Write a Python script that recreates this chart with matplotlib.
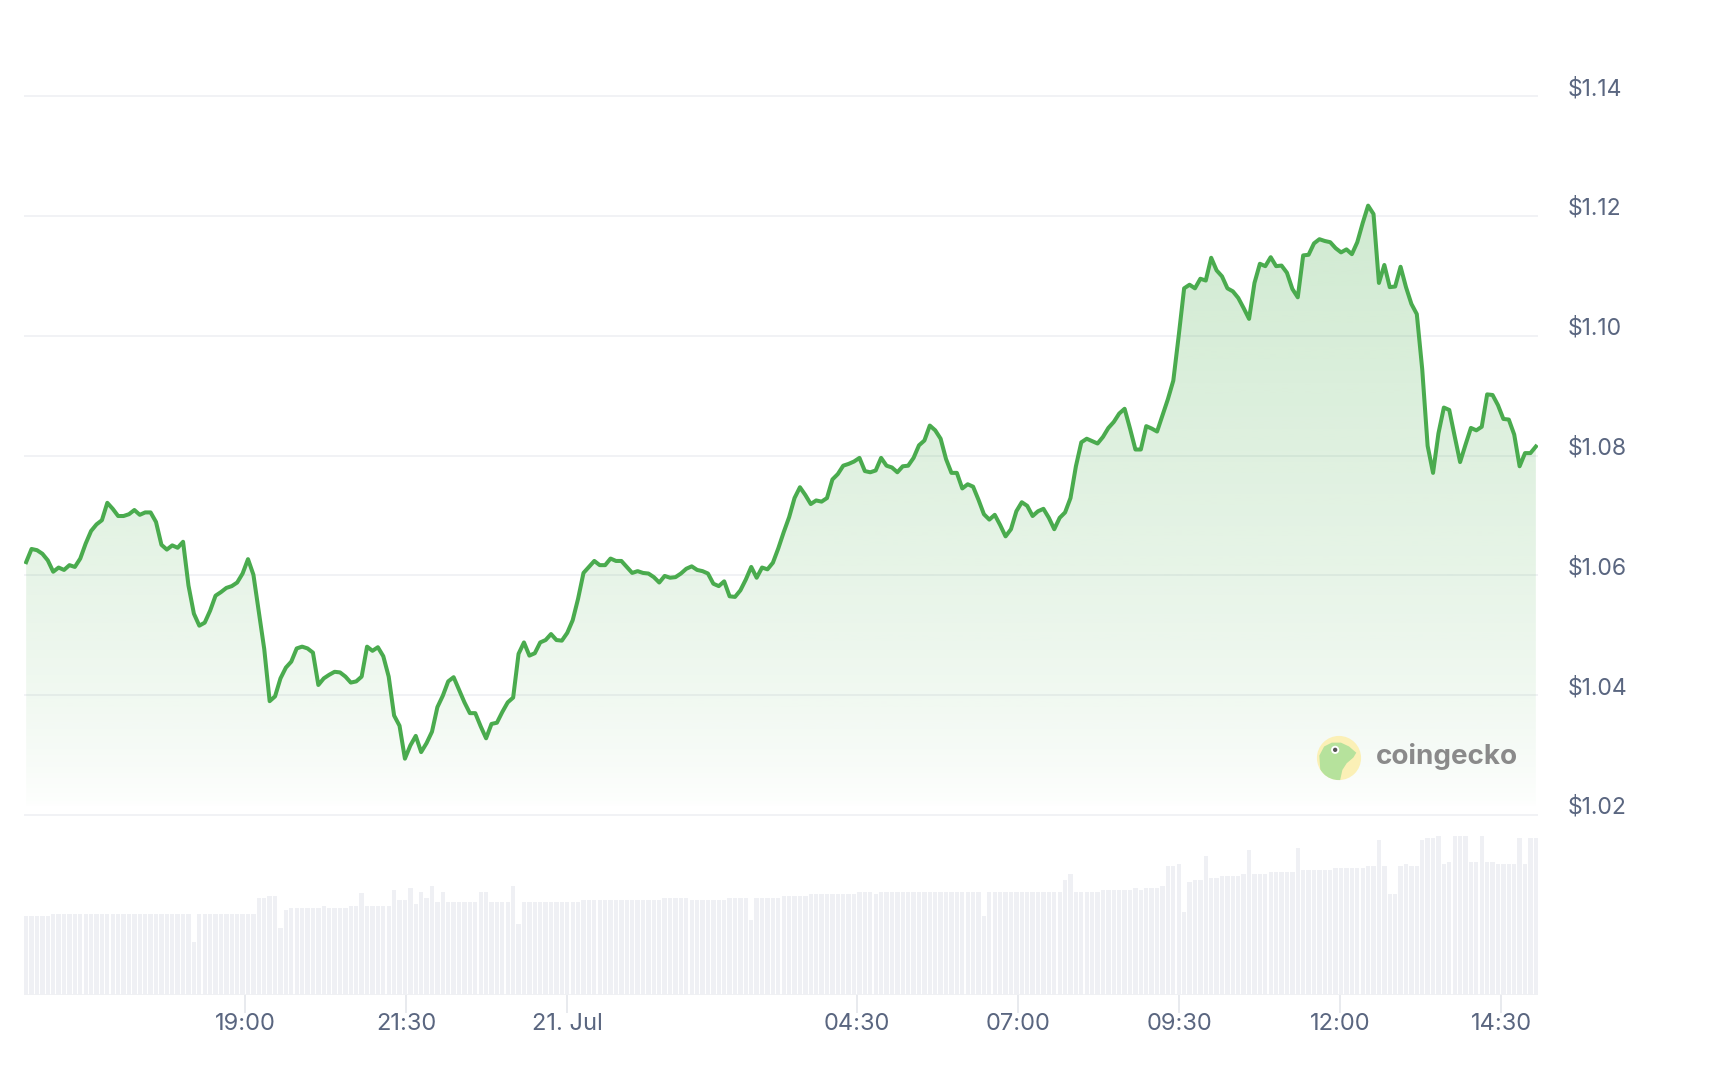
import numpy as np
import pandas as pd
import matplotlib
matplotlib.use("Agg")
import matplotlib.pyplot as plt
import matplotlib.dates as mdates
from matplotlib.colors import to_rgb
from matplotlib.transforms import offset_copy
from matplotlib.patches import Circle, Polygon

plt.rcParams['font.family'] = ['Inter', 'DejaVu Sans']

# 24h price, one reading per ~5 minutes (USD)
price = [
    1.0622, 1.0644, 1.0642, 1.0636, 1.0625, 1.0606, 1.0613, 1.0609, 1.0617, 1.0614,
    1.0628, 1.0653, 1.0674, 1.0685, 1.0692, 1.0721, 1.0711, 1.0699, 1.0699, 1.0702,
    1.0709, 1.0701, 1.0705, 1.0705, 1.0689, 1.0651, 1.0643, 1.0650, 1.0646, 1.0656,
    1.0583, 1.0536, 1.0516, 1.0521, 1.0541, 1.0566, 1.0572, 1.0579, 1.0582, 1.0588,
    1.0603, 1.0627, 1.0601, 1.0539, 1.0477, 1.0390, 1.0398, 1.0428, 1.0446, 1.0456,
    1.0478, 1.0481, 1.0478, 1.0471, 1.0417, 1.0428, 1.0434, 1.0439, 1.0438, 1.0431,
    1.0421, 1.0423, 1.0431, 1.0481, 1.0474, 1.0480, 1.0465, 1.0431, 1.0366, 1.0349,
    1.0294, 1.0316, 1.0332, 1.0305, 1.0320, 1.0339, 1.0380, 1.0399, 1.0423, 1.0430,
    1.0409, 1.0388, 1.0370, 1.0370, 1.0348, 1.0328, 1.0352, 1.0354, 1.0372, 1.0388,
    1.0396, 1.0469, 1.0488, 1.0466, 1.0470, 1.0488, 1.0492, 1.0502, 1.0492, 1.0491,
    1.0504, 1.0525, 1.0561, 1.0604, 1.0614, 1.0624, 1.0617, 1.0617, 1.0628, 1.0624,
    1.0624, 1.0614, 1.0604, 1.0607, 1.0604, 1.0603, 1.0597, 1.0588, 1.0599, 1.0596,
    1.0597, 1.0603, 1.0611, 1.0615, 1.0609, 1.0607, 1.0603, 1.0586, 1.0582, 1.0590,
    1.0565, 1.0564, 1.0575, 1.0593, 1.0614, 1.0596, 1.0613, 1.0610, 1.0621, 1.0645,
    1.0672, 1.0697, 1.0729, 1.0747, 1.0734, 1.0719, 1.0725, 1.0723, 1.0729, 1.0760,
    1.0769, 1.0783, 1.0786, 1.0790, 1.0796, 1.0774, 1.0772, 1.0775, 1.0796, 1.0783,
    1.0780, 1.0772, 1.0782, 1.0783, 1.0796, 1.0817, 1.0825, 1.0850, 1.0842, 1.0828,
    1.0794, 1.0771, 1.0771, 1.0745, 1.0752, 1.0748, 1.0726, 1.0702, 1.0693, 1.0701,
    1.0684, 1.0665, 1.0677, 1.0707, 1.0722, 1.0716, 1.0699, 1.0707, 1.0711, 1.0696,
    1.0677, 1.0696, 1.0705, 1.0729, 1.0782, 1.0822, 1.0828, 1.0824, 1.0820, 1.0831,
    1.0846, 1.0856, 1.0870, 1.0878, 1.0845, 1.0810, 1.0810, 1.0849, 1.0845, 1.0840,
    1.0867, 1.0894, 1.0925, 1.1000, 1.1079, 1.1085, 1.1079, 1.1095, 1.1092, 1.1130,
    1.1109, 1.1099, 1.1079, 1.1074, 1.1063, 1.1046, 1.1028, 1.1088, 1.1120, 1.1116,
    1.1131, 1.1116, 1.1117, 1.1105, 1.1078, 1.1064, 1.1134, 1.1135, 1.1154, 1.1161,
    1.1158, 1.1156, 1.1146, 1.1139, 1.1144, 1.1136, 1.1156, 1.1188, 1.1217, 1.1203,
    1.1088, 1.1118, 1.1081, 1.1082, 1.1115, 1.1081, 1.1053, 1.1036, 1.0944, 1.0816,
    1.0771, 1.0837, 1.0880, 1.0876, 1.0832, 1.0789, 1.0818, 1.0846, 1.0842, 1.0848,
    1.0902, 1.0901, 1.0884, 1.0861, 1.0860, 1.0835, 1.0782, 1.0804, 1.0804, 1.0815,
]

# traded volume per reading (relative units, millions)
volume = [
    7.9, 7.9, 7.9, 7.9, 7.9, 8.1, 8.1, 8.1, 8.1, 8.1, 8.1, 8.1, 8.1, 8.1, 8.1, 8.1, 8.1, 8.1, 8.1, 8.1,
    8.1, 8.1, 8.1, 8.1, 8.1, 8.1, 8.1, 8.1, 8.1, 8.1, 8.1, 5.3, 8.1, 8.1, 8.1, 8.1, 8.1, 8.1, 8.1, 8.1,
    8.1, 8.1, 8.1, 9.7, 9.7, 9.9, 9.9, 6.7, 8.5, 8.7, 8.7, 8.7, 8.7, 8.7, 8.7, 8.9, 8.7, 8.7, 8.7, 8.7,
    8.9, 8.9, 10.2, 8.9, 8.9, 8.9, 8.9, 8.9, 10.5, 9.5, 9.5, 10.7, 9.1, 10.3, 9.7, 10.9, 9.3, 10.3, 9.3, 9.3,
    9.3, 9.3, 9.3, 9.3, 10.3, 10.3, 9.3, 9.3, 9.3, 9.3, 10.9, 7.1, 9.3, 9.3, 9.3, 9.3, 9.3, 9.3, 9.3, 9.3,
    9.3, 9.3, 9.3, 9.5, 9.5, 9.5, 9.5, 9.5, 9.5, 9.5, 9.5, 9.5, 9.5, 9.5, 9.5, 9.5, 9.5, 9.5, 9.7, 9.7,
    9.7, 9.7, 9.7, 9.5, 9.5, 9.5, 9.5, 9.5, 9.5, 9.5, 9.7, 9.7, 9.7, 9.7, 7.5, 9.7, 9.7, 9.7, 9.7, 9.7,
    9.9, 9.9, 9.9, 9.9, 9.9, 10.1, 10.1, 10.1, 10.1, 10.1, 10.1, 10.1, 10.1, 10.1, 10.3, 10.3, 10.3, 10.1, 10.3, 10.3,
    10.3, 10.3, 10.3, 10.3, 10.3, 10.3, 10.3, 10.3, 10.3, 10.3, 10.3, 10.3, 10.3, 10.3, 10.3, 10.3, 10.3, 7.9, 10.3, 10.3,
    10.3, 10.3, 10.3, 10.3, 10.3, 10.3, 10.3, 10.3, 10.3, 10.3, 10.3, 10.3, 11.5, 12.1, 10.3, 10.3, 10.3, 10.3, 10.3, 10.5,
    10.5, 10.5, 10.5, 10.5, 10.5, 10.7, 10.5, 10.7, 10.7, 10.7, 10.9, 12.9, 12.9, 13.1, 8.3, 11.3, 11.5, 11.5, 13.9, 11.7,
    11.7, 11.9, 11.9, 11.9, 11.9, 12.1, 14.5, 12.1, 12.1, 12.1, 12.3, 12.3, 12.3, 12.3, 12.3, 14.7, 12.5, 12.5, 12.5, 12.5,
    12.5, 12.5, 12.7, 12.7, 12.7, 12.7, 12.7, 12.7, 12.9, 12.9, 15.5, 12.9, 10.1, 10.1, 12.9, 13.1, 12.9, 12.9, 15.5, 15.7,
    15.7, 15.9, 13.1, 13.3, 15.9, 15.9, 15.9, 13.3, 13.3, 15.9, 13.3, 13.3, 13.1, 13.1, 13.1, 13.1, 15.7, 13.1, 15.7, 15.7,
]

start_time = "2024-07-20 15:36"
end_time = "2024-07-21 15:02"
price_ticks = [1.02, 1.04, 1.06, 1.08, 1.10, 1.12, 1.14]
time_ticks = ["2024-07-20 19:00", "2024-07-20 21:30", "2024-07-21 00:00", "2024-07-21 04:30",
              "2024-07-21 07:00", "2024-07-21 09:30", "2024-07-21 12:00", "2024-07-21 14:30"]
time_labels = ["19:00", "21:30", "21. Jul", "04:30", "07:00", "09:30", "12:00", "14:30"]

green = "#4aab4e"
grid_col = "#eff0f3"
bar_col = "#eff0f4"
label_col = "#5a6680"

times = pd.date_range(start_time, end_time, periods=len(price))
x = mdates.date2num(times)
step = x[1] - x[0]
xlim = (mdates.date2num(pd.Timestamp("2024-07-20 15:34")), mdates.date2num(pd.Timestamp("2024-07-21 15:04")))

W, H = 1710, 1080
fig = plt.figure(figsize=(W / 100, H / 100), dpi=100)
ax = fig.add_axes([24 / W, 265 / H, 1514 / W, 719 / H])
axv = fig.add_axes([24 / W, 85 / H, 1514 / W, 160 / H])

# price pane
ax.hlines(price_ticks, xlim[0], xlim[1], colors=grid_col, lw=1.2, zorder=0, clip_on=False)
poly = ax.fill_between(x, price, 1.02, color="none", lw=0)
grad = np.linspace(0, 1, 256) ** 0.7 * 0.26
rgba = np.zeros((256, 1, 4))
rgba[..., :3] = to_rgb("#4caf50")
rgba[..., 3] = grad[:, None]
img = ax.imshow(rgba, extent=[x[0], x[-1], 1.021, max(price)], origin="lower",
                aspect="auto", zorder=1, interpolation="bilinear")
img.set_clip_path(poly.get_paths()[0], transform=ax.transData)
ax.plot(x, price, color=green, lw=2.9, solid_joinstyle="round", zorder=3)
ax.set_xlim(xlim)
ax.set_ylim(1.02, 1.14)
ax.axis("off")

lab_tr = offset_copy(ax.get_yaxis_transform(), fig=fig, x=0, y=1, units="dots")
for v in price_ticks:
    ax.text(1.0198, v, f"${v:.2f}", transform=lab_tr, ha="left", va="baseline",
            fontsize=16.5, color=label_col, clip_on=False)

# volume pane
axv.bar(x, volume, width=step * 0.8, color=bar_col, lw=0, zorder=1)
axv.axhline(0, color=grid_col, lw=1.2, zorder=2)
axv.set_xlim(xlim)
axv.set_ylim(0, 16.0)
for s in axv.spines.values():
    s.set_visible(False)
axv.set_yticks([])
axv.set_xticks(mdates.date2num(pd.to_datetime(time_ticks)))
axv.set_xticklabels(time_labels)
axv.tick_params(axis="x", length=13, width=1.3, color="#e6e8ed", labelsize=17,
                labelcolor=label_col, pad=0)

# coingecko watermark
lax = fig.add_axes([(1339 - 24) / W, (H - 758 - 24) / H, 48 / W, 48 / H])
lax.set_xlim(-1, 1)
lax.set_ylim(-1, 1)
lax.axis("off")
disc = Circle((0, 0), 0.92, color="#fbf0b6", lw=0)
lax.add_patch(disc)
head = Polygon([(-0.78, -0.5), (-0.82, 0.1), (-0.62, 0.48), (-0.3, 0.64), (0.08, 0.64),
                (0.42, 0.48), (0.72, 0.22), (0.6, 0.02), (0.32, -0.22), (0.14, -0.5),
                (0.04, -0.95), (-0.45, -0.9)], closed=True, color="#b6e29c", lw=0)
lax.add_patch(head)
head.set_clip_path(disc)
lax.add_patch(Circle((-0.16, 0.34), 0.17, color="white", lw=0))
lax.add_patch(Circle((-0.16, 0.34), 0.09, color="#555555", lw=0))
fig.text(1376 / W, (H - 756) / H, "coingecko", fontsize=20, fontweight="bold",
         color="#8a8a8a", ha="left", va="center")

fig.savefig("out.png", dpi=100, facecolor="white")
